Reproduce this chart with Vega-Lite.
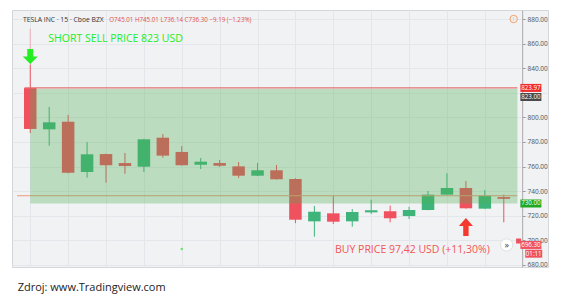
{
  "$schema": "https://vega.github.io/schema/vega-lite/v6.json",
  "autosize": {"type": "none"},
  "padding": {"left": 12, "top": 10, "right": 17, "bottom": 37},
  "width": 536,
  "height": 257,
  "background": "#ffffff",
  "config": {
    "view": {"fill": "#f1f2f3", "stroke": "#d3d6da"},
    "font": "Open Sans",
    "axisY": {"tickCount": 11, "format": ".2f", "labelExpr": "datum.value == 820 ? '' : datum.label", "labelFontSize": 6.5, "labelColor": "#555555", "labelPadding": 2, "labelOverlap": false, "labelFlush": false, "tickSize": 3, "tickColor": "#9a9a9a", "domainColor": "#b5b5b5", "grid": true, "gridColor": "#e3e7ec", "title": null},
    "axisX": {"tickCount": 14, "labels": false, "ticks": false, "domain": false, "grid": true, "gridColor": "#e3e7ec", "title": null}
  },
  "datasets": {
    "candles": [
      {"i": 0, "o": 823.97, "h": 843, "l": 787.3, "c": 790.6, "dir": "down"},
      {"i": 1, "o": 790.3, "h": 808.5, "l": 777.0, "c": 796.0, "dir": "up"},
      {"i": 2, "o": 796.5, "h": 802, "l": 754.5, "c": 755.0, "dir": "down"},
      {"i": 3, "o": 755.6, "h": 780, "l": 751, "c": 770, "dir": "up"},
      {"i": 4, "o": 770.2, "h": 770.5, "l": 746.9, "c": 761.1, "dir": "down"},
      {"i": 5, "o": 762.9, "h": 771.1, "l": 754.2, "c": 760.5, "dir": "down"},
      {"i": 6, "o": 759.9, "h": 782.5, "l": 755.6, "c": 782.2, "dir": "up"},
      {"i": 7, "o": 783.5, "h": 786.5, "l": 767.2, "c": 768.9, "dir": "down"},
      {"i": 8, "o": 771.9, "h": 776.7, "l": 760.8, "c": 761.1, "dir": "down"},
      {"i": 9, "o": 761.5, "h": 767, "l": 758, "c": 764, "dir": "up"},
      {"i": 10, "o": 762.9, "h": 765.4, "l": 759.7, "c": 760.7, "dir": "down"},
      {"i": 11, "o": 760.2, "h": 763.7, "l": 750.7, "c": 752.6, "dir": "down"},
      {"i": 12, "o": 752.6, "h": 762.9, "l": 752.3, "c": 757, "dir": "up"},
      {"i": 13, "o": 757, "h": 761.3, "l": 749.5, "c": 749.7, "dir": "down"},
      {"i": 14, "o": 749.9, "h": 750.5, "l": 714, "c": 716.8, "dir": "down"},
      {"i": 15, "o": 715.5, "h": 728, "l": 703, "c": 723.3, "dir": "up"},
      {"i": 16, "o": 722, "h": 736, "l": 713.3, "c": 715.2, "dir": "down"},
      {"i": 17, "o": 715.5, "h": 725.5, "l": 711.1, "c": 723.1, "dir": "up"},
      {"i": 18, "o": 722.8, "h": 733.1, "l": 721.5, "c": 724.5, "dir": "up"},
      {"i": 19, "o": 723.7, "h": 728.2, "l": 714.7, "c": 718, "dir": "down"},
      {"i": 20, "o": 719.8, "h": 727.4, "l": 717.4, "c": 724.7, "dir": "up"},
      {"i": 21, "o": 724.7, "h": 740.2, "l": 724.5, "c": 737.2, "dir": "up"},
      {"i": 22, "o": 737.2, "h": 754.6, "l": 737, "c": 742.6, "dir": "up"},
      {"i": 23, "o": 742.6, "h": 748.3, "l": 725.8, "c": 726.1, "dir": "down"},
      {"i": 24, "o": 725.8, "h": 741, "l": 725.5, "c": 736.3, "dir": "up"},
      {"i": 25, "o": 735.2, "h": 737.2, "l": 714.7, "c": 733.8, "dir": "down"}
    ],
    "one": [{}]
  },
  "data": {"name": "candles"},
  "layer": [
    {
      "mark": {"type": "rule", "strokeWidth": 1},
      "encoding": {
        "x": {"field": "i", "type": "quantitative",
          "scale": {"domain": [-0.7, 27.07], "nice": false, "zero": false}},
        "y": {"field": "l", "type": "quantitative",
          "scale": {"domain": [678.37, 887.32], "nice": false, "zero": false},
          "axis": {"orient": "right", "offset": -26}},
        "y2": {"field": "h"},
        "color": {"field": "dir", "type": "nominal", "scale": {"domain": ["up", "down"], "range": ["#3fb47a", "#f0515f"]}, "legend": null}
      }
    },
    {
      "mark": {"type": "bar", "size": 12.5},
      "encoding": {
        "x": {"field": "i", "type": "quantitative"},
        "y": {"field": "o", "type": "quantitative", "axis": {"orient": "right", "offset": -26}},
        "y2": {"field": "c"},
        "color": {"field": "dir", "type": "nominal", "legend": null}
      }
    },
    {
      "data": {"name": "one"},
      "mark": {"type": "rule", "color": "#e89a7e", "strokeWidth": 1},
      "encoding": {
        "x": {"datum": -0.7, "type": "quantitative"},
        "x2": {"datum": 25.72},
        "y": {"datum": 736.3, "type": "quantitative"}
      }
    },
    {
      "data": {"name": "one"},
      "mark": {"type": "rect", "color": "#4caf50", "opacity": 0.32},
      "encoding": {
        "x": {"datum": 0, "type": "quantitative"},
        "x2": {"datum": 25.72},
        "y": {"datum": 823, "type": "quantitative"},
        "y2": {"datum": 730}
      }
    },
    {
      "data": {"name": "one"},
      "mark": {"type": "rule", "color": "#e57373", "strokeWidth": 1.2},
      "encoding": {
        "x": {"datum": -0.3, "type": "quantitative"},
        "x2": {"datum": 25.72},
        "y": {"datum": 823.97, "type": "quantitative"}
      }
    },
    {
      "data": {"name": "one"},
      "mark": {"type": "rule", "color": "#f0a0a8", "strokeWidth": 0.8},
      "encoding": {
        "x": {"datum": 0, "type": "quantitative"},
        "y": {"datum": 872, "type": "quantitative"},
        "y2": {"datum": 852}
      }
    },
    {
      "data": {"name": "one"},
      "mark": {"type": "point", "shape": "circle", "filled": true, "color": "#33dd33", "size": 6},
      "encoding": {
        "x": {"datum": 8, "type": "quantitative"},
        "y": {"datum": 693, "type": "quantitative"}
      }
    },
    {
      "data": {"name": "one"},
      "mark": {"type": "point", "shape": "M-0.4,-1L0.4,-1L0.4,0L1,0L0,1L-1,0L-0.4,0Z", "filled": true, "color": "#22ee22", "opacity": 1, "size": 225},
      "encoding": {
        "x": {"datum": 0, "type": "quantitative"},
        "y": {"datum": 849.5, "type": "quantitative"}
      }
    },
    {
      "data": {"name": "one"},
      "mark": {"type": "point", "shape": "M-0.3,1L0.3,1L0.3,-0.1L0.78,-0.1L0,-1L-0.78,-0.1L-0.3,-0.1Z", "filled": true, "color": "#f43a30", "opacity": 1, "size": 324},
      "encoding": {
        "x": {"datum": 23, "type": "quantitative"},
        "y": {"datum": 710.9, "type": "quantitative"}
      }
    },
    {
      "data": {"name": "one"},
      "mark": {"type": "text", "text": "TESLA INC · 15 · Cboe BZX", "align": "left", "baseline": "alphabetic", "fontSize": 6.8, "color": "#333333"},
      "encoding": {"x": {"datum": -0.389, "type": "quantitative"}, "y": {"datum": 877.6, "type": "quantitative"}}
    },
    {
      "data": {"name": "one"},
      "mark": {"type": "text", "text": "O745.01  H745.01  L736.14  C736.30  −9.19 (−1.23%)", "align": "left", "baseline": "alphabetic", "fontSize": 6.2, "color": "#e2504a"},
      "encoding": {"x": {"datum": 4.17, "type": "quantitative"}, "y": {"datum": 877.6, "type": "quantitative"}}
    },
    {
      "data": {"name": "one"},
      "mark": {"type": "text", "text": "SHORT SELL PRICE 823 USD", "align": "left", "baseline": "alphabetic", "fontSize": 10.5, "color": "#22ee22"},
      "encoding": {"x": {"datum": 0.95, "type": "quantitative"}, "y": {"datum": 861.3, "type": "quantitative"}}
    },
    {
      "data": {"name": "one"},
      "mark": {"type": "text", "text": "BUY PRICE 97,42 USD (+11,30%)", "align": "left", "baseline": "alphabetic", "fontSize": 10.5, "color": "#f25555"},
      "encoding": {"x": {"datum": 16.09, "type": "quantitative"}, "y": {"datum": 689.8, "type": "quantitative"}}
    },
    {
      "data": {"name": "one"},
      "mark": {"type": "text", "text": "Zdroj: www.Tradingview.com", "align": "left", "baseline": "alphabetic", "fontSize": 11, "color": "#222222"},
      "encoding": {"x": {"datum": -0.664, "type": "quantitative"}, "y": {"datum": 658.9, "type": "quantitative"}}
    },
    {
      "data": {"name": "one"},
      "mark": {"type": "point", "shape": "circle", "filled": true, "color": "#ffffff", "stroke": "#e0e0e0", "strokeWidth": 1, "size": 150, "opacity": 1},
      "encoding": {"x": {"datum": 25.15, "type": "quantitative"}, "y": {"datum": 696.3, "type": "quantitative"}}
    },
    {
      "data": {"name": "one"},
      "mark": {"type": "text", "text": "»", "align": "center", "baseline": "middle", "fontSize": 9, "color": "#444444"},
      "encoding": {"x": {"datum": 25.15, "type": "quantitative"}, "y": {"datum": 696.3, "type": "quantitative"}}
    },
    {
      "data": {"name": "one"},
      "mark": {"type": "point", "shape": "circle", "filled": false, "color": "#f0a070", "strokeWidth": 1, "size": 55, "opacity": 1},
      "encoding": {"x": {"datum": 25.52, "type": "quantitative"}, "y": {"datum": 880, "type": "quantitative"}}
    },
    {
      "data": {"name": "one"},
      "mark": {"type": "text", "text": "!", "align": "center", "baseline": "middle", "fontSize": 6, "color": "#f0a070"},
      "encoding": {"x": {"datum": 25.52, "type": "quantitative"}, "y": {"datum": 880, "type": "quantitative"}}
    },
    {
      "data": {"name": "one"},
      "mark": {"type": "point", "shape": "square", "filled": true, "color": "#f0515f", "size": 25, "opacity": 1},
      "encoding": {"x": {"datum": 25.78, "type": "quantitative"}, "y": {"datum": 699.5, "type": "quantitative"}}
    },
    {
      "data": {"name": "one"},
      "mark": {"type": "tick", "orient": "horizontal", "size": 21, "thickness": 8, "color": "#f22b2b", "opacity": 1},
      "encoding": {"x": {"datum": 26.43, "type": "quantitative"}, "y": {"datum": 823.97, "type": "quantitative"}}
    },
    {
      "data": {"name": "one"},
      "mark": {"type": "tick", "orient": "horizontal", "size": 21, "thickness": 8, "color": "#4a4a4a", "opacity": 1},
      "encoding": {"x": {"datum": 26.43, "type": "quantitative"}, "y": {"datum": 816.6, "type": "quantitative"}}
    },
    {
      "data": {"name": "one"},
      "mark": {"type": "tick", "orient": "horizontal", "size": 21, "thickness": 8, "color": "#21a821", "opacity": 1},
      "encoding": {"x": {"datum": 26.43, "type": "quantitative"}, "y": {"datum": 730, "type": "quantitative"}}
    },
    {
      "data": {"name": "one"},
      "mark": {"type": "tick", "orient": "horizontal", "size": 21, "thickness": 8, "color": "#f0515f", "opacity": 1},
      "encoding": {"x": {"datum": 26.43, "type": "quantitative"}, "y": {"datum": 696.3, "type": "quantitative"}}
    },
    {
      "data": {"name": "one"},
      "mark": {"type": "tick", "orient": "horizontal", "size": 17, "thickness": 8, "color": "#f0515f", "opacity": 1},
      "encoding": {"x": {"datum": 26.58, "type": "quantitative"}, "y": {"datum": 689.2, "type": "quantitative"}}
    },
    {
      "data": {"name": "one"},
      "mark": {"type": "text", "text": "823.97", "align": "center", "baseline": "middle", "fontSize": 6.2, "color": "#ffffff"},
      "encoding": {"x": {"datum": 26.43, "type": "quantitative"}, "y": {"datum": 823.97, "type": "quantitative"}}
    },
    {
      "data": {"name": "one"},
      "mark": {"type": "text", "text": "823.00", "align": "center", "baseline": "middle", "fontSize": 6.2, "color": "#ffffff"},
      "encoding": {"x": {"datum": 26.43, "type": "quantitative"}, "y": {"datum": 816.6, "type": "quantitative"}}
    },
    {
      "data": {"name": "one"},
      "mark": {"type": "text", "text": "730.00", "align": "center", "baseline": "middle", "fontSize": 6.2, "color": "#ffffff"},
      "encoding": {"x": {"datum": 26.43, "type": "quantitative"}, "y": {"datum": 730, "type": "quantitative"}}
    },
    {
      "data": {"name": "one"},
      "mark": {"type": "text", "text": "696.30", "align": "center", "baseline": "middle", "fontSize": 6.2, "color": "#ffffff"},
      "encoding": {"x": {"datum": 26.43, "type": "quantitative"}, "y": {"datum": 696.3, "type": "quantitative"}}
    },
    {
      "data": {"name": "one"},
      "mark": {"type": "text", "text": "01:11", "align": "center", "baseline": "middle", "fontSize": 6.2, "color": "#ffffff"},
      "encoding": {"x": {"datum": 26.58, "type": "quantitative"}, "y": {"datum": 689.2, "type": "quantitative"}}
    }
  ]
}
